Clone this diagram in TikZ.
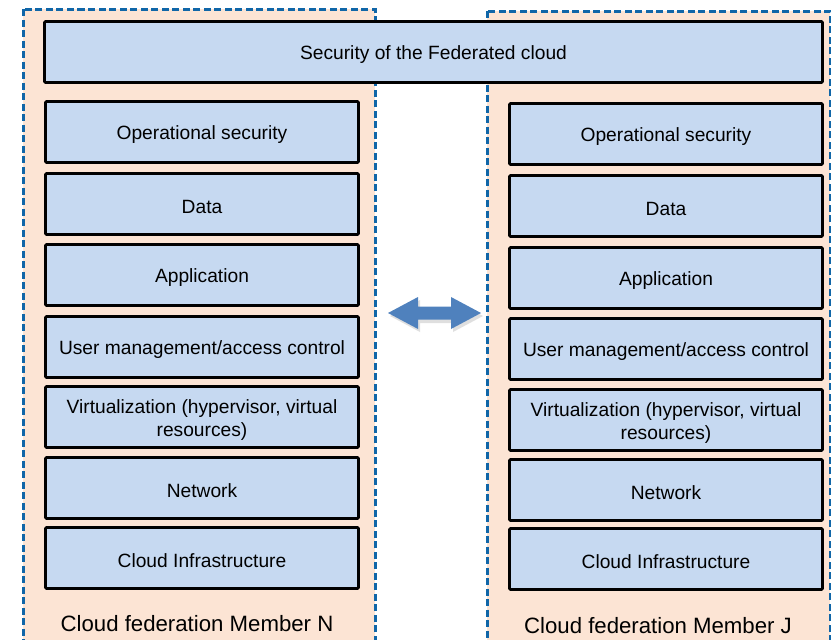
\documentclass[tikz,border=0pt]{standalone}
\usepackage{fontspec}
\setmainfont{Liberation Sans}
\definecolor{boxblue}{RGB}{198,217,241}
\definecolor{peach}{RGB}{252,228,212}
\definecolor{dashblue}{RGB}{16,102,168}
\definecolor{arrowblue}{RGB}{79,129,189}
\newcommand{\lowr}[1]{\raisebox{-3pt}[\height][\depth]{#1}}
\begin{document}
\begin{tikzpicture}[x=1pt,y=-1pt,
  panel/.style={draw=dashblue,fill=peach,line width=3pt,dash pattern=on 7pt off 3.5pt},
  layer/.style={draw=black,line width=2.6pt,fill=boxblue,minimum width=313pt,minimum height=61pt,
    inner sep=2pt,align=center,font=\fontsize{19.2}{23.5}\selectfont,rounded corners=1pt},
  toplayer/.style={layer,minimum width=778pt},
  caption/.style={font=\fontsize{22.2}{26}\selectfont,inner sep=0pt}]
\useasboundingbox (0,0) rectangle (831,640);
\clip (0,0) rectangle (831,640);
% panels
\draw[panel] (23,9) rectangle (375,680);
\draw[panel] (487,11) rectangle (830,680);
% top layer
\node[toplayer] (sec) at (433.5,52) {\lowr{Security of the Federated cloud}};
% left stack
\node[layer] (l1) at (202,132) {\lowr{Operational security}};
\node[layer] (l2) at (202,204) {\lowr{Data}};
\node[layer] (l3) at (202,275) {\lowr{Application}};
\node[layer] (l4) at (202,347) {\lowr{User management/access control}};
\node[layer] (l5) at (202,417) {\lowr{Virtualization (hypervisor, virtual}\\\lowr{resources)}};
\node[layer] (l6) at (202,488) {\lowr{Network}};
\node[layer] (l7) at (202,558) {\lowr{Cloud Infrastructure}};
\node[caption] (capN) at (197,624) {Cloud federation Member N};
% right stack
\node[layer] (r1) at (666,134) {\lowr{Operational security}};
\node[layer] (r2) at (666,206) {\lowr{Data}};
\node[layer] (r3) at (666,278) {\lowr{Application}};
\node[layer] (r4) at (666,349) {\lowr{User management/access control}};
\node[layer] (r5) at (666,420) {\lowr{Virtualization (hypervisor, virtual}\\\lowr{resources)}};
\node[layer] (r6) at (666,490) {\lowr{Network}};
\node[layer] (r7) at (666,559) {\lowr{Cloud Infrastructure}};
\node[caption] (capJ) at (658,626) {Cloud federation Member J};
% double arrow
\fill[black!25,opacity=0.5] (390,316) -- (420,300) -- (420,309) -- (453,309) -- (453,300) -- (483,316)
  -- (453,332) -- (453,323) -- (420,323) -- (420,332) -- cycle;
\fill[arrowblue] (388,313) -- (418,297) -- (418,306.5) -- (451,306.5) -- (451,297) -- (481,313)
  -- (451,329) -- (451,319.5) -- (418,319.5) -- (418,329) -- cycle;
\end{tikzpicture}
\end{document}
